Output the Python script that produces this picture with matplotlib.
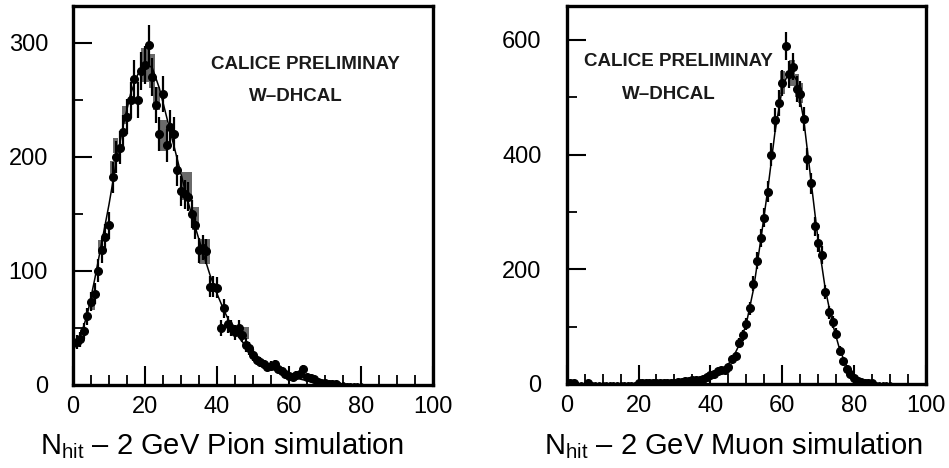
import numpy as np
import matplotlib
matplotlib.use("Agg")
import matplotlib.pyplot as plt
from matplotlib.ticker import MultipleLocator
from matplotlib.patches import Rectangle

# ---------------- Pion simulation ----------------
pion_x = list(range(1, 81))
pion_n = [38, 40, 47, 60, 73, 80, 100, 118, 130, 140,
          182, 200, 208, 222, 235, 250, 268, 250, 275, 280,
          298, 270, 245, 220, 255, 210, 226, 220, 188, 170,
          167, 165, 150, 140, 118, 120, 117, 86, 86, 85,
          50, 67, 53, 50, 46, 50, 44, 35, 32, 26,
          22, 20, 18, 16, 17, 18, 14, 12, 10, 8,
          7, 9, 10, 14, 7, 6, 5, 3, 2, 2,
          1, 1, 1, 0.5, 0.5, 0.3, 0.2, 0.2, 0.1, 0.1]

pion_fit_x = [0, 2, 4, 6, 8, 10, 12, 14, 16, 18, 20, 22, 24, 26, 28, 30,
              32, 34, 36, 38, 40, 42, 44, 46, 48, 50, 52, 54, 56, 58, 60,
              62, 64, 66, 68, 70, 72, 74, 76, 78, 80]
pion_fit_y = [30, 42, 62, 92, 125, 158, 195, 228, 255, 272, 282, 278, 260,
              235, 210, 185, 160, 138, 117, 97, 80, 65, 52, 42, 34, 27, 21,
              17, 13, 10, 8, 6, 4.5, 3.5, 2.5, 2, 1.5, 1, 0.8, 0.5, 0.3]

# grey boxes: (left edge, width, low, high)
pion_box_x0 = [4.6, 7.0, 10.2, 11.0, 13.5, 19.0, 21.0, 22.3, 24.0, 27.0, 30.4, 33.0, 35.0, 47.0]
pion_box_w = [1.4, 1.3, 1.4, 1.5, 1.8, 2.0, 1.7, 1.8, 2.0, 1.3, 2.6, 2.0, 3.0, 2.0]
pion_box_lo = [66, 115, 183, 203, 229, 265, 260, 241, 205, 217, 162, 136, 106, 40]
pion_box_hi = [80, 127, 196, 216, 244, 295, 290, 261, 232, 229, 187, 156, 128, 51]

# ---------------- Muon simulation ----------------
muon_x = list(range(1, 91))
muon_n = [1, 1, 0.5, 0.3, 0.5, 1, 0.5, 0.5, 0.3, 0.2,
          0.3, 0.5, 0.3, 0.3, 0.5, 0.5, 0.5, 0.5, 0.8, 1,
          1, 1, 1, 1.5, 1.5, 1.5, 2, 2, 2, 2.5,
          3, 4, 5, 6, 7, 7, 7, 8, 12, 16,
          17, 22, 24, 25, 30, 44, 48, 72, 85, 105,
          132, 175, 215, 255, 290, 335, 400, 460, 490, 525,
          590, 540, 553, 515, 505, 462, 392, 350, 275, 245,
          225, 160, 125, 108, 88, 58, 40, 26, 17, 10,
          6, 4, 2, 1, 1, 0.5, 0.3, 0.2, 0.1, 0.1]

muon_fit_x = [0, 10, 20, 30, 35, 38, 40, 42, 44, 46, 48, 50, 52, 54, 56,
              58, 60, 62, 64, 66, 68, 70, 72, 74, 76, 78, 80, 82, 84, 86, 90]
muon_fit_y = [0.5, 0.5, 1, 2, 5, 8, 13, 20, 28, 42, 68, 105, 165, 250, 340,
              440, 515, 548, 530, 460, 355, 250, 165, 105, 60, 30, 12, 5, 2,
              0.5, 0]

muon_box_x0 = [59.5, 62.0, 63.5, 64.5]
muon_box_w = [1.2, 1.5, 1.2, 1.3]
muon_box_lo = [505, 520, 500, 490]
muon_box_hi = [545, 565, 540, 525]

xticks = [0, 20, 40, 60, 80, 100]
pion_yticks = [0, 100, 200, 300]
muon_yticks = [0, 200, 400, 600]

title_lines = ["CALICE PRELIMINAY", "W\u2013DHCAL"]
pion_label = "N$_{\\rm hit}$ \u2013 2 GeV Pion simulation"
muon_label = "N$_{\\rm hit}$ \u2013 2 GeV Muon simulation"

plt.rcParams["font.family"] = ["Liberation Sans", "DejaVu Sans"]
plt.rcParams["mathtext.fontset"] = "custom"
plt.rcParams["mathtext.rm"] = "Liberation Sans"

fig = plt.figure(figsize=(9.49, 4.68), dpi=100)
ax1 = fig.add_axes([0.0769, 0.1774, 0.3793, 0.8098])
ax2 = fig.add_axes([0.5971, 0.1795, 0.3786, 0.8077])


def draw_panel(ax, x, n, fx, fy, bx0, bw, blo, bhi, ymax, yticks, ymin_step,
               tx, ty1, ty2):
    for x0, w, lo, hi in zip(bx0, bw, blo, bhi):
        ax.add_patch(Rectangle((x0, lo), w, hi - lo, facecolor="#5a5a5a",
                               edgecolor="none", alpha=0.9, zorder=2))
    ax.plot(fx, fy, color="black", lw=1.1, zorder=3)
    xa = np.asarray(x, dtype=float)
    na = np.asarray(n, dtype=float)
    err = np.sqrt(na)  # Poisson errors
    vis = na >= 1
    ax.errorbar(xa[vis], na[vis], yerr=err[vis], xerr=0.5, fmt="o",
                color="black", ms=5.5, elinewidth=1.6, capsize=0, zorder=4)
    ax.plot(xa[~vis], na[~vis], "o", color="black", ms=2.5, zorder=4)

    ax.set_xlim(0, 100)
    ax.set_ylim(0, ymax)
    ax.set_xticks(xticks)
    ax.set_yticks(yticks)
    ax.xaxis.set_minor_locator(MultipleLocator(5))
    ax.yaxis.set_minor_locator(MultipleLocator(ymin_step))
    ax.tick_params(which="major", direction="in", length=14, width=1.5,
                   labelsize=17, top=False, right=False)
    ax.tick_params(axis="y", which="major", pad=18)
    ax.tick_params(axis="x", which="major", pad=8)
    ax.tick_params(which="minor", direction="in", length=7, width=1.3,
                   top=False, right=False)
    for s in ax.spines.values():
        s.set_linewidth(2.4)
    ax.text(tx, ty1, title_lines[0], fontsize=13.5, ha="center", va="center",
            fontweight="bold", color="#1a1a1a")
    ax.text(tx - 2.5, ty2, title_lines[1], fontsize=13.5, ha="center",
            va="center", fontweight="bold", color="#1a1a1a")


draw_panel(ax1, pion_x, pion_n, pion_fit_x, pion_fit_y, pion_box_x0,
           pion_box_w, pion_box_lo, pion_box_hi, 332, pion_yticks, 50,
           64.5, 281, 253)
draw_panel(ax2, muon_x, muon_n, muon_fit_x, muon_fit_y, muon_box_x0,
           muon_box_w, muon_box_lo, muon_box_hi, 659, muon_yticks, 100,
           31, 562, 504)

fig.text(222 / 949, 1 - 446 / 468, pion_label, fontsize=21, ha="center",
         va="center")
fig.text(733 / 949, 1 - 446 / 468, muon_label, fontsize=21, ha="center",
         va="center")

fig.savefig("out.png", dpi=100)
